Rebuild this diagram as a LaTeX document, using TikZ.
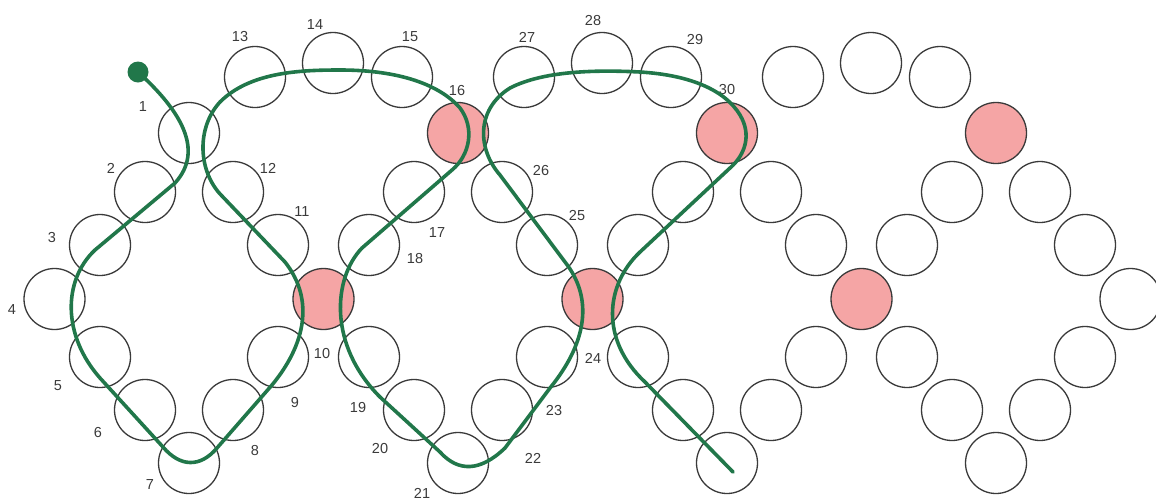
\documentclass[tikz,border=0pt]{standalone}
\usepackage{fontspec}
\setmainfont{Liberation Sans}
\definecolor{cBead}{HTML}{3A3A3A}
\definecolor{cPink}{HTML}{F5A5A5}
\definecolor{cThread}{HTML}{21774A}
\definecolor{cNum}{HTML}{3A3A3A}
\tikzset{
  bead/.style   = {circle, draw=cBead, line width=1.3pt, minimum size=61pt, inner sep=0pt},
  pbead/.style  = {bead, fill=cPink},
  num/.style    = {font=\fontsize{14.5}{16}\selectfont, text=cNum, inner sep=1pt},
  thread/.style = {draw=cThread, line width=3.6pt, line cap=round, line join=round},
  knot/.style   = {circle, fill=cThread, minimum size=21pt, inner sep=0pt},
}

\begin{document}
\begin{tikzpicture}[x=1pt, y=-1pt]
  \useasboundingbox (0,0) rectangle (1156,499);

  % first diamond
  \node[bead]  (b1)  at (189,133) {};
  \node[bead]  (b2)  at (145,192) {};
  \node[bead]  (b3)  at (100,245) {};
  \node[bead]  (b4)  at (54.5,299) {};
  \node[bead]  (b5)  at (100,357) {};
  \node[bead]  (b6)  at (145,410) {};
  \node[bead]  (b7)  at (189,463) {};
  \node[bead]  (b8)  at (233,410) {};
  \node[bead]  (b9)  at (278,357) {};
  \node[pbead] (b10) at (323.5,299) {};
  \node[bead]  (b11) at (278,245) {};
  \node[bead]  (b12) at (233,192) {};
  \node[bead]  (b13) at (255,77) {};
  \node[bead]  (b14) at (333,63) {};
  \node[bead]  (b15) at (402,77) {};

  % second diamond
  \node[pbead] (b16) at (458,133) {};
  \node[bead]  (b17) at (414,192) {};
  \node[bead]  (b18) at (369,245) {};
  \node[bead]  (b19) at (369,357) {};
  \node[bead]  (b20) at (414,410) {};
  \node[bead]  (b21) at (458,463) {};
  \node[bead]  (b22) at (502,410) {};
  \node[bead]  (b23) at (547,357) {};
  \node[pbead] (b24) at (592.5,299) {};
  \node[bead]  (b25) at (547,245) {};
  \node[bead]  (b26) at (502,192) {};
  \node[bead]  (b27) at (524,77) {};
  \node[bead]  (b28) at (602,63) {};
  \node[bead]  (b29) at (671,77) {};

  % third diamond
  \node[pbead] (b30) at (727,133) {};
  \node[bead]  (c1)  at (683,192) {};
  \node[bead]  (c2)  at (638,245) {};
  \node[bead]  (c3)  at (638,357) {};
  \node[bead]  (c4)  at (683,410) {};
  \node[bead]  (c5)  at (727,463) {};
  \node[bead]  (c6)  at (771,410) {};
  \node[bead]  (c7)  at (816,357) {};
  \node[pbead] (c8)  at (861.5,299) {};
  \node[bead]  (c9)  at (816,245) {};
  \node[bead]  (c10) at (771,192) {};
  \node[bead]  (c11) at (793,77) {};
  \node[bead]  (c12) at (871,63) {};
  \node[bead]  (c13) at (940,77) {};

  % fourth diamond
  \node[pbead] (d1)  at (996,133) {};
  \node[bead]  (d2)  at (952,192) {};
  \node[bead]  (d3)  at (907,245) {};
  \node[bead]  (d4)  at (907,357) {};
  \node[bead]  (d5)  at (952,410) {};
  \node[bead]  (d6)  at (996,463) {};
  \node[bead]  (d7)  at (1040,410) {};
  \node[bead]  (d8)  at (1085,357) {};
  \node[bead]  (d9)  at (1130.5,299) {};
  \node[bead]  (d10) at (1085,245) {};
  \node[bead]  (d11) at (1040,192) {};

  % bead numbers
  \node[num] (n1)  at (143,107) {1};
  \node[num] (n2)  at (111,168) {2};
  \node[num] (n3)  at (52,238)  {3};
  \node[num] (n4)  at (12,310)  {4};
  \node[num] (n5)  at (58,386)  {5};
  \node[num] (n6)  at (98,432)  {6};
  \node[num] (n7)  at (150,485) {7};
  \node[num] (n8)  at (255,450) {8};
  \node[num] (n9)  at (295,402) {9};
  \node[num] (n10) at (322,353) {10};
  \node[num] (n11) at (302,212) {11};
  \node[num] (n12) at (268,168) {12};
  \node[num] (n13) at (240,37)  {13};
  \node[num] (n14) at (315,25)  {14};
  \node[num] (n15) at (410,37)  {15};
  \node[num] (n16) at (457,91)  {16};
  \node[num] (n17) at (437,233) {17};
  \node[num] (n18) at (415,259) {18};
  \node[num] (n19) at (358,407) {19};
  \node[num] (n20) at (380,448) {20};
  \node[num] (n21) at (422,493) {21};
  \node[num] (n22) at (533,458) {22};
  \node[num] (n23) at (554,410) {23};
  \node[num] (n24) at (593,358) {24};
  \node[num] (n25) at (577,216) {25};
  \node[num] (n26) at (541,171) {26};
  \node[num] (n27) at (527,37)  {27};
  \node[num] (n28) at (593,21)  {28};
  \node[num] (n29) at (695,40)  {29};
  \node[num] (n30) at (727,90)  {30};

  % the thread
  \node[knot] (start) at (138,72) {};
  \coordinate (tail) at (733,472);
  \draw[thread] (start.center)
      .. controls (180,110) and (205,150) .. (175,183) -- (95,250)
      .. controls (63,280) and (62,335) .. (100,378) -- (163,447)
      .. controls (180,467) and (200,468) .. (217,448) -- (272,385)
      .. controls (305,345) and (315,300) .. (285,262) -- (222,196)
      .. controls (198,172) and (196,128) .. (220,102)
      .. controls (250,72) and (300,70) .. (340,70)
      .. controls (400,70) and (440,85) .. (460,108)
      .. controls (475,128) and (470,155) .. (452,170) -- (362,248)
      .. controls (333,278) and (328,345) .. (380,397) -- (440,452)
      .. controls (458,472) and (480,472) .. (505,448) -- (550,388)
      .. controls (585,345) and (595,300) .. (565,262) -- (500,175)
      .. controls (478,150) and (475,110) .. (510,88)
      .. controls (545,70) and (600,70) .. (640,72)
      .. controls (690,75) and (725,90) .. (740,115)
      .. controls (752,135) and (745,155) .. (730,168) -- (640,252)
      .. controls (605,285) and (600,340) .. (645,382) -- (tail);
\end{tikzpicture}
\end{document}
